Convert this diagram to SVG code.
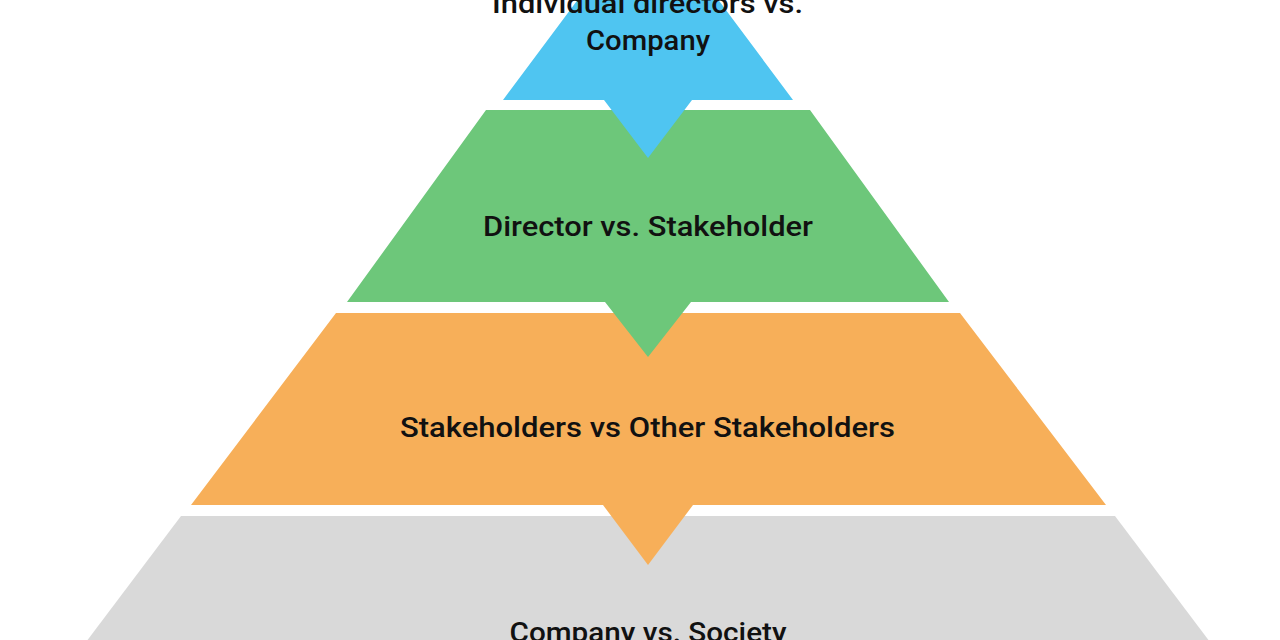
<svg xmlns="http://www.w3.org/2000/svg" width="1280" height="640" viewBox="0 0 1280 640">
  <style>
    .lbl { font-family: Roboto, "Liberation Sans", sans-serif; font-size: 28px; font-weight: 500; fill: #111111; text-anchor: middle; }
  </style>
  <rect x="0" y="0" width="1280" height="640" fill="#ffffff"/>
  <g id="connectors"></g>
  <g id="layer4">
    <polygon points="181,516 1115,516 1216,650 80,650" fill="#D9D9D9"/>
    <text class="lbl" x="648" y="642" textLength="277" lengthAdjust="spacingAndGlyphs">Company vs. Society</text>
  </g>
  <g id="layer3">
    <polygon points="336,313 960,313 1106,505 693,505 648,565 603,505 191,505" fill="#F7AF59"/>
    <text class="lbl" x="647.5" y="437" textLength="495" lengthAdjust="spacingAndGlyphs">Stakeholders vs Other Stakeholders</text>
  </g>
  <g id="layer2">
    <polygon points="486,110 810,110 949,302 691,302 648,357 605,302 347,302" fill="#6DC77A"/>
    <text class="lbl" x="648" y="236" textLength="330" lengthAdjust="spacingAndGlyphs">Director vs. Stakeholder</text>
  </g>
  <g id="layer1">
    <polygon points="585,-10 711,-10 793,100 692,100 648,158 604,100 503,100" fill="#4FC5F1"/>
    <text class="lbl" x="647.5" y="13" textLength="311" lengthAdjust="spacingAndGlyphs">Individual directors vs.</text>
    <text class="lbl" x="648" y="50" textLength="124" lengthAdjust="spacingAndGlyphs">Company</text>
  </g>
</svg>
